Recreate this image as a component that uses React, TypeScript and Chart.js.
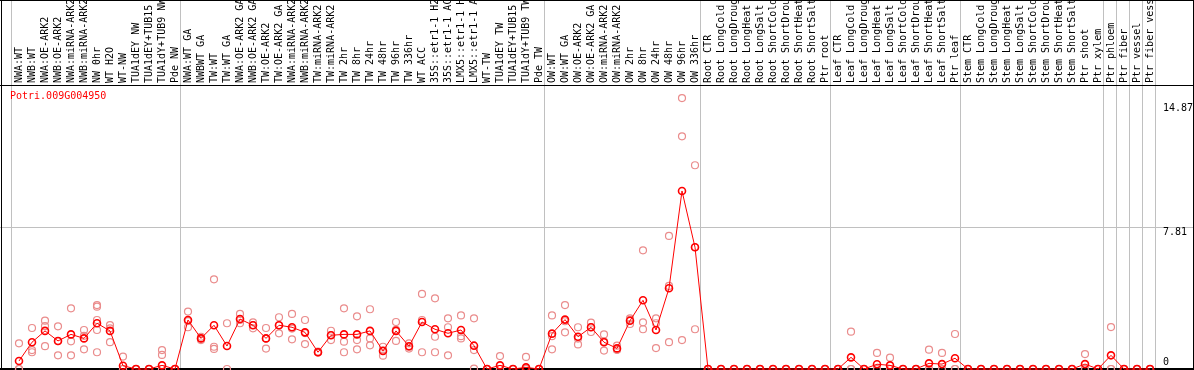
import React, { useEffect, useRef } from "react";
import { Chart, registerables } from "chart.js";

Chart.register(...registerables);

const title = "Potri.009G004950";

const categories = [
  "NWA:WT", "NWB:WT", "NWA:OE-ARK2", "NWB:OE-ARK2", "NWA:miRNA-ARK2", "NWB:miRNA-ARK2", "NW 0hr", "WT H2O", "WT-NW", "TUA1dEY NW", "TUA1dEY+TUB15 NW", "TUA1dY+TUB9 NW", "Pde NW",
  "NWA:WT GA", "NWBWT GA", "TW:WT", "TW:WT GA", "NWA:OE-ARK2 GA", "NWB:OE-ARK2 GA", "TW:OE-ARK2", "TW:OE-ARK2 GA", "NWA:miRNA-ARK2 GA", "NWB:miRNA-ARK2 GA", "TW:miRNA-ARK2", "TW:miRNA-ARK2 GA",
  "TW 2hr", "TW 8hr", "TW 24hr", "TW 48hr", "TW 96hr", "TW 336hr", "WT ACC", "35S::etr1-1 H2O", "35S::etr1-1 ACC", "LMX5::etr1-1 H2O", "LMX5::etr1-1 ACC", "WT-TW", "TUA1dEY TW", "TUA1dEY+TUB15 TW", "TUA1dY+TUB9 TW", "Pde TW",
  "OW:WT", "OW:WT GA", "OW:OE-ARK2", "OW:OE-ARK2 GA", "OW:miRNA-ARK2", "OW:miRNA-ARK2 GA", "OW 2hr", "OW 8hr", "OW 24hr", "OW 48hr", "OW 96hr", "OW 336hr",
  "Root CTR", "Root LongCold", "Root LongDrought", "Root LongHeat", "Root LongSalt", "Root ShortCold", "Root ShortDrought", "Root ShortHeat", "Root ShortSalt", "Ptr root",
  "Leaf CTR", "Leaf LongCold", "Leaf LongDrought", "Leaf LongHeat", "Leaf LongSalt", "Leaf ShortCold", "Leaf ShortDrought", "Leaf ShortHeat", "Leaf ShortSalt", "Ptr leaf",
  "Stem CTR", "Stem LongCold", "Stem LongDrought", "Stem LongHeat", "Stem LongSalt", "Stem ShortCold", "Stem ShortDrought", "Stem ShortHeat", "Stem ShortSalt", "Ptr shoot", "Ptr xylem",
  "Ptr phloem", "Ptr fiber", "Ptr vessel", "Ptr fiber vessel",
];

const means = [
  0.44, 1.47, 2.09, 1.54, 1.9, 1.68, 2.51, 2.09, 0.18, 0, 0, 0.2, 0,
  2.69, 1.68, 2.4, 1.26, 2.74, 2.4, 1.68, 2.4, 2.29, 2.01, 0.92, 1.85, 1.9, 1.9, 2.09, 0.99, 2.09, 1.25, 2.58, 2.18, 1.96, 2.14, 1.28, 0, 0.2, 0, 0.09, 0,
  1.94, 2.71, 1.77, 2.29, 1.47, 1.13, 2.65, 3.77, 2.14, 4.43, 9.77, 6.68,
  0, 0, 0, 0, 0, 0, 0, 0, 0, 0,
  0, 0.64, 0, 0.26, 0.2, 0, 0, 0.31, 0.27, 0.59,
  0, 0, 0, 0, 0, 0, 0, 0, 0, 0.27, 0,
  0.75, 0, 0, 0,
];

const replicates = [
  [1.41, 0, 0], [2.25, 1.04, 0.92], [2.65, 2.35, 1.25], [2.34, 0.75, 1.53], [3.33, 1.52, 0.75], [2.14, 1.08, 1.82],
  [3.51, 3.42, 2.69, 2.14, 0.92], [2.41, 2.23, 1.47], [0.68, 0, 0], [0, 0, 0], [0, 0, 0], [1.04, 0.77, 0], [0, 0, 0],
  [3.15, 2.29, 2.63], [1.77, 1.59, 1.68], [4.92, 1.22, 1.1], [2.51, 0], [3.02, 2.51, 2.69], [2.56, 2.23, 2.41],
  [2.25, 1.12, 1.67], [2.84, 1.96, 2.4], [3.02, 1.63, 2.22], [2.69, 1.37, 1.97], [0.95, 0.9, 0.92], [2.1, 1.59, 1.86],
  [3.33, 1.5, 0.92], [2.89, 1.59, 1.08], [3.28, 1.68, 1.3], [1.22, 0.73, 1.02], [2.58, 1.54, 2.15], [1.41, 1.22, 1.12],
  [4.12, 2.69, 0.92], [3.88, 1.77, 0.92], [2.78, 2.29, 0.75], [2.94, 1.68, 1.8], [2.78, 1.04, 0.02],
  [0, 0, 0], [0.71, 0, 0], [0, 0, 0], [0.66, 0, 0], [0, 0, 0],
  [2.94, 1.08, 1.8], [3.51, 2.01, 2.62], [2.29, 1.35, 1.67], [2.54, 2.03, 2.3], [1.9, 1.01, 1.5], [1.28, 1.05, 1.06],
  [2.78, 2.47, 2.7], [6.51, 2.56, 2.18], [2.78, 2.51, 1.15], [7.3, 4.56, 1.47], [14.87, 12.77, 1.59], [11.18, 2.18, 6.68],
  [0, 0, 0], [0, 0, 0], [0, 0, 0], [0, 0, 0], [0, 0, 0], [0, 0, 0], [0, 0, 0], [0, 0, 0], [0, 0, 0], [0, 0, 0],
  [0, 0, 0], [2.05, 0, 0], [0, 0, 0], [0.88, 0, 0], [0.62, 0, 0], [0, 0, 0], [0, 0, 0], [1.06, 0, 0], [0.88, 0, 0], [1.92, 0, 0],
  [0, 0, 0], [0, 0, 0], [0, 0, 0], [0, 0, 0], [0, 0, 0], [0, 0, 0], [0, 0, 0], [0, 0, 0], [0, 0, 0], [0.82, 0, 0], [0, 0, 0],
  [2.3, 0, 0], [0, 0, 0], [0, 0, 0], [0, 0, 0],
];

const yTickValues = [0, 7.81, 14.87];
const yTickLabels = ["0", "7.81", "14.87"];
const groupStarts = [0, 13, 41, 53, 63, 73, 84, 85, 86, 87, 88];

const W = 1194;
const H = 370;
const LABEL_AREA = 86;
const FONT = "10px 'DejaVu Sans Mono', monospace";

export default function App() {
  const ref = useRef<HTMLCanvasElement>(null);

  useEffect(() => {
    document.body.style.margin = "0";
    const canvas = ref.current;
    if (!canvas) return;

    const decor = {
      id: "decor",
      beforeDatasetsDraw(chart: any) {
        const ctx = chart.ctx as CanvasRenderingContext2D;
        const xs = chart.scales.x;
        const ys = chart.scales.y;
        const top = chart.chartArea.top;
        ctx.save();
        // horizontal grid line at the middle tick
        ctx.fillStyle = "#c0c0c0";
        const gy = Math.round(ys.getPixelForValue(yTickValues[1]));
        ctx.fillRect(0, gy, W, 1);
        // group separators
        for (const g of groupStarts) {
          const px = Math.round(xs.getPixelForValue(g - 0.6));
          ctx.fillRect(px, 0, 1, H);
        }
        // frame
        ctx.fillStyle = "#000000";
        ctx.fillRect(0, 0, W, 1);
        ctx.fillRect(0, top - 1, W, 1);
        ctx.fillRect(0, H - 2, W, 2);
        ctx.fillRect(1, 0, 1, H);
        ctx.fillRect(W - 1, 0, 1, H);

        // category labels (vertical)
        ctx.save();
        ctx.beginPath();
        ctx.rect(2, 1, W - 3, top - 2);
        ctx.clip();
        ctx.font = FONT;
        ctx.fillStyle = "#000000";
        ctx.textAlign = "left";
        ctx.textBaseline = "middle";
        categories.forEach((c, i) => {
          const px = xs.getPixelForValue(i);
          ctx.save();
          ctx.translate(px, top - 3);
          ctx.rotate(-Math.PI / 2);
          ctx.fillText(c, 0, 0);
          ctx.restore();
        });
        ctx.restore();

        // title
        ctx.font = FONT;
        ctx.fillStyle = "#ff0000";
        ctx.textAlign = "left";
        ctx.textBaseline = "middle";
        ctx.fillText(title, 10, top + 10);

        // y-axis labels
        const offsets = [-7, 6, 10];
        ctx.fillStyle = "#000000";
        yTickValues.forEach((v, i) => {
          const py = ys.getPixelForValue(v) + offsets[i];
          ctx.fillText(yTickLabels[i], 1163, py);
        });
        ctx.restore();
      },
    };

    const chart = new Chart(canvas, {
      type: "line",
      data: {
        datasets: [
          {
            label: "mean",
            data: means.map((v, i) => ({ x: i, y: v })),
            borderColor: "#ff0000",
            borderWidth: 1,
            pointRadius: 3.5,
            pointBorderWidth: 1.6,
            pointBorderColor: "#ff0000",
            pointBackgroundColor: "rgba(0,0,0,0)",
            tension: 0,
            order: 0,
            clip: false,
          } as any,
          {
            label: "replicates",
            data: replicates.flatMap((reps, i) => reps.map((v) => ({ x: i, y: v }))),
            showLine: false,
            pointRadius: 3.5,
            pointBorderWidth: 1.2,
            pointBorderColor: "rgb(234,140,140)",
            pointBackgroundColor: "rgba(0,0,0,0)",
            order: 1,
            clip: false,
          } as any,
        ],
      },
      options: {
        responsive: false,
        animation: false,
        devicePixelRatio: 1,
        events: [],
        layout: { autoPadding: false, padding: { top: LABEL_AREA, bottom: 1, left: 1, right: 1 } },
        plugins: {
          legend: { display: false },
          tooltip: { enabled: false },
          title: { display: false },
        },
        scales: {
          x: { type: "linear", min: -18 / 13, max: -18 / 13 + 1192 / 13, display: false },
          y: { type: "linear", min: 0, max: 15.53, display: false },
        },
      } as any,
      plugins: [decor],
    });

    return () => chart.destroy();
  }, []);

  return (
    <div style={{ position: "absolute", left: 0, top: 0, width: W, height: H }}>
      <canvas ref={ref} width={W} height={H} style={{ display: "block" }} />
    </div>
  );
}
